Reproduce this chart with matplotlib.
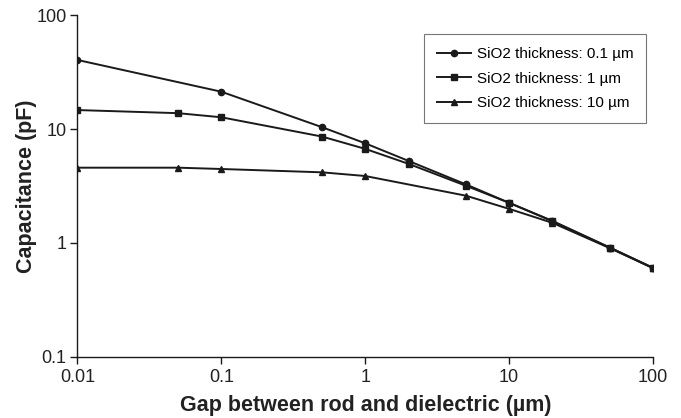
import matplotlib
matplotlib.use("Agg")
from matplotlib import pyplot as plt
from matplotlib.ticker import FixedLocator, FixedFormatter, NullLocator

plt.rcParams['font.family'] = ['Liberation Sans', 'DejaVu Sans']

# SiO2 thickness: 0.1 um (circles)
gap_01 = [0.01, 0.1, 0.5, 1, 2, 5, 10, 20, 50, 100]
cap_01 = [40.5, 21.3, 10.4, 7.5, 5.25, 3.27, 2.25, 1.56, 0.91, 0.605]

# SiO2 thickness: 1 um (squares)
gap_1 = [0.01, 0.05, 0.1, 0.5, 1, 2, 5, 10, 20, 50, 100]
cap_1 = [14.7, 13.8, 12.7, 8.6, 6.7, 4.95, 3.18, 2.25, 1.55, 0.91, 0.6]

# SiO2 thickness: 10 um (triangles)
gap_10 = [0.01, 0.05, 0.1, 0.5, 1, 5, 10, 20, 50, 100]
cap_10 = [4.58, 4.58, 4.46, 4.17, 3.87, 2.6, 1.99, 1.5, 0.9, 0.6]

labels = ["SiO2 thickness: 0.1 \u00b5m", "SiO2 thickness: 1 \u00b5m", "SiO2 thickness: 10 \u00b5m"]

xticks = [0.01, 0.1, 1, 10, 100]
xtick_labels = ["0.01", "0.1", "1", "10", "100"]
yticks = [0.1, 1, 10, 100]
ytick_labels = ["0.1", "1", "10", "100"]

fig = plt.figure(figsize=(6.81, 4.18), dpi=100)
ax = fig.add_axes([0.1138, 0.1467, 0.8451, 0.8167])

c = '#1a1a1a'
ax.plot(gap_01, cap_01, c=c, lw=1.4, marker='o', ms=4.5, label=labels[0])
ax.plot(gap_1, cap_1, c=c, lw=1.4, marker='s', ms=4.5, label=labels[1])
ax.plot(gap_10, cap_10, c=c, lw=1.4, marker='^', ms=5, label=labels[2])

ax.set_xscale('log')
ax.set_yscale('log')
ax.set_xlim(0.01, 100)
ax.set_ylim(0.1, 100)

ax.xaxis.set_major_locator(FixedLocator(xticks))
ax.xaxis.set_major_formatter(FixedFormatter(xtick_labels))
ax.xaxis.set_minor_locator(NullLocator())
ax.yaxis.set_major_locator(FixedLocator(yticks))
ax.yaxis.set_major_formatter(FixedFormatter(ytick_labels))
ax.yaxis.set_minor_locator(NullLocator())

ax.spines['top'].set_visible(False)
ax.spines['right'].set_visible(False)
for s in ['left', 'bottom']:
    ax.spines[s].set_linewidth(1.0)
    ax.spines[s].set_color(c)

ax.tick_params(axis='both', direction='out', length=5, width=1.0, colors=c,
               labelsize=13, labelcolor='#222222')
ax.tick_params(axis='y', pad=3)
ax.tick_params(axis='x', pad=4)

ax.set_xlabel("Gap between rod and dielectric (\u00b5m)", fontsize=15.5, fontweight='bold',
              color='#222222', va='top')
ax.set_ylabel("Capacitance (pF)", fontsize=15.5, fontweight='bold', color='#222222')
ax.xaxis.set_label_coords(0.5, -0.112)
ax.yaxis.set_label_coords(-0.07, 0.5)

leg = ax.legend(loc='upper left', bbox_to_anchor=(0.602, 0.945), borderaxespad=0,
                fontsize=11, frameon=True, fancybox=False, edgecolor='#555555',
                handlelength=2.2, handletextpad=0.4, borderpad=0.85, labelspacing=0.7)
leg.get_frame().set_linewidth(0.8)

fig.savefig("out.png", dpi=100)
